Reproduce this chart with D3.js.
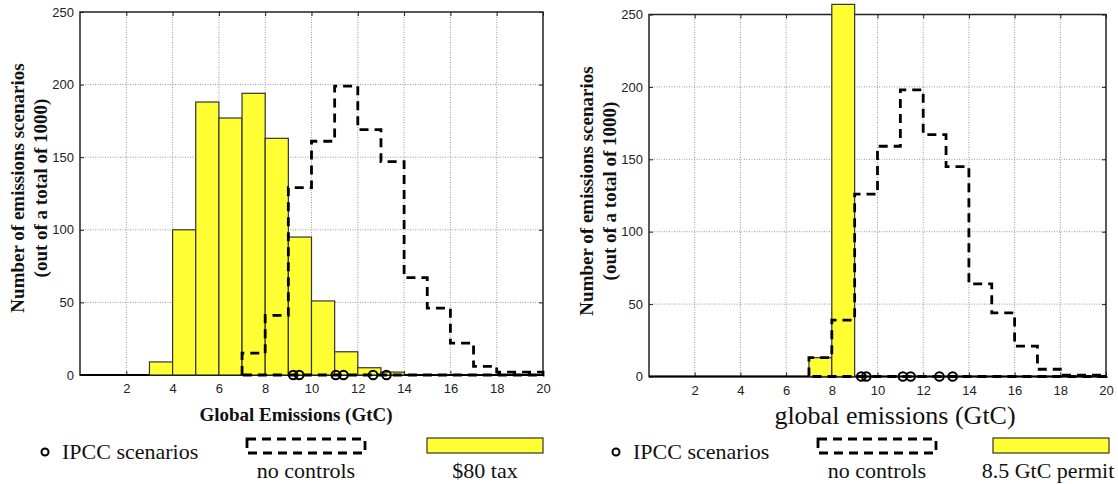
<!DOCTYPE html>
<html>
<head>
<meta charset="utf-8">
<script src="https://d3js.org/d3.v7.min.js"></script>
<style>
  body { margin: 0; background: #fff; }
  svg { display: block; }
  .tick text { font-family: "Liberation Sans", Arial, sans-serif; font-size: 13px; fill: #222; }
  .serif { font-family: "Liberation Serif", "Times New Roman", serif; fill: #111; }
</style>
</head>
<body>
<script>
// bins are 1 GtC wide, starting at these values
var binStarts = [0, 1, 2, 3, 4, 5, 6, 7, 8, 9, 10, 11, 12, 13, 14, 15, 16, 17, 18, 19];

// left panel: $80 tax vs no controls
var taxCounts        = [0, 0, 0, 9, 100, 188, 177, 194, 163, 95, 51, 16, 5, 2, 0, 0, 0, 0, 0, 0];
var noControlsLeft   = [0, 0, 0, 0, 0, 0, 0, 15, 41, 129, 161, 199, 169, 147, 67, 46, 22, 6, 2, 2];
var ipccLeft         = [9.21, 9.47, 11.05, 11.38, 12.66, 13.24];

// right panel: 8.5 GtC permit vs no controls
var permitCounts     = [0, 0, 0, 0, 0, 0, 0, 13, 257, 0, 0, 0, 0, 0, 0, 0, 0, 0, 0, 0];
var noControlsRight  = [0, 0, 0, 0, 0, 0, 0, 13, 39, 126, 159, 198, 167, 145, 64, 44, 21, 5, 1, 1];
var ipccRight        = [9.29, 9.51, 11.11, 11.45, 12.71, 13.29];

var xTicks = [2, 4, 6, 8, 10, 12, 14, 16, 18, 20];
var yTicks = [0, 50, 100, 150, 200, 250];

var svg;
var yellow = "#ffff33";
var dash = "9,6";

function init() {
    svg = d3.select("body").append("svg")
        .attr("width", 1118)
        .attr("height", 484);

    drawPanel({
        left: 80, right: 543, top: 12, bottom: 375,
        bars: taxCounts, steps: noControlsLeft, ipcc: ipccLeft,
        yTitleX: 18, yTitleY: 188,
        xTitle: "Global Emissions (GtC)", xTitleX: 296, xTitleY: 421, xTitleSize: 19, xTitleBold: true,
        legendX: 0, barLabel: "$80 tax", barLabelX: 485, barBox: [427, 543]
    });

    drawPanel({
        left: 649, right: 1106, top: 14.5, bottom: 376.5,
        bars: permitCounts, steps: noControlsRight, ipcc: ipccRight,
        yTitleX: 587, yTitleY: 191,
        xTitle: "global emissions (GtC)", xTitleX: 895, xTitleY: 424, xTitleSize: 26, xTitleBold: false,
        legendX: 571, barLabel: "8.5 GtC permit", barLabelX: 1048, barBox: [993, 1109]
    });
}

function drawPanel(o) {
    var x = d3.scaleLinear().domain([0, 20]).range([o.left, o.right]);
    var y = d3.scaleLinear().domain([0, 250]).range([o.bottom, o.top]);

    var g = svg.append("g");

    // dotted grid
    g.selectAll("line.vgrid")
        .data(xTicks.slice(0, -1))
        .enter().append("line")
        .attr("class", "vgrid")
        .attr("x1", function (d) { return x(d); })
        .attr("x2", function (d) { return x(d); })
        .attr("y1", o.top).attr("y2", o.bottom)
        .attr("stroke", "#999").attr("stroke-width", 1)
        .attr("stroke-dasharray", "1,1.5");

    g.selectAll("line.hgrid")
        .data(yTicks.slice(1, -1))
        .enter().append("line")
        .attr("class", "hgrid")
        .attr("x1", o.left).attr("x2", o.right)
        .attr("y1", function (d) { return y(d); })
        .attr("y2", function (d) { return y(d); })
        .attr("stroke", "#999").attr("stroke-width", 1)
        .attr("stroke-dasharray", "1,1.5");

    // axes: labels bottom/left, inward ticks on every side
    g.append("g")
        .attr("transform", "translate(0," + o.bottom + ")")
        .call(d3.axisBottom(x).tickValues(xTicks).tickSize(-4).tickPadding(9))
        .call(function (a) { a.select(".domain").remove(); });

    g.append("g")
        .attr("transform", "translate(0," + o.top + ")")
        .call(d3.axisTop(x).tickValues(xTicks).tickSize(-4).tickFormat(""))
        .call(function (a) { a.select(".domain").remove(); });

    g.append("g")
        .attr("transform", "translate(" + o.left + ",0)")
        .call(d3.axisLeft(y).tickValues(yTicks).tickSize(-4).tickPadding(6))
        .call(function (a) { a.select(".domain").remove(); });

    g.append("g")
        .attr("transform", "translate(" + o.right + ",0)")
        .call(d3.axisRight(y).tickValues(yTicks).tickSize(-4).tickFormat(""))
        .call(function (a) { a.select(".domain").remove(); });

    g.selectAll(".tick line").attr("stroke", "#222");

    // frame
    g.append("rect")
        .attr("x", o.left).attr("y", o.top)
        .attr("width", o.right - o.left).attr("height", o.bottom - o.top)
        .attr("fill", "none").attr("stroke", "#222").attr("stroke-width", 1.5);

    g.append("line")
        .attr("x1", o.left).attr("x2", o.right)
        .attr("y1", o.bottom).attr("y2", o.bottom)
        .attr("stroke", "#000").attr("stroke-width", 2);

    // yellow histogram
    var barData = binStarts.map(function (b, i) { return { b: b, v: o.bars[i] }; })
        .filter(function (d) { return d.v > 0; });

    g.selectAll("rect.bar")
        .data(barData)
        .enter().append("rect")
        .attr("class", "bar")
        .attr("x", function (d) { return x(d.b); })
        .attr("width", function (d) { return x(d.b + 1) - x(d.b); })
        .attr("y", function (d) { return y(d.v); })
        .attr("height", function (d) { return y(0) - y(d.v); })
        .attr("fill", yellow)
        .attr("stroke", "#333").attr("stroke-width", 1.2);

    // no controls histogram as a dashed staircase outline
    var first = o.steps.findIndex(function (v) { return v > 0; });
    var pts = [[binStarts[first], 0]];
    for (var i = first; i < binStarts.length; i++) pts.push([binStarts[i], o.steps[i]]);
    var end = binStarts[binStarts.length - 1] + 1;
    pts.push([end, o.steps[o.steps.length - 1]]);
    pts.push([end, 0]);
    pts.push([binStarts[first], 0]);

    var stairs = d3.line()
        .x(function (d) { return x(d[0]); })
        .y(function (d) { return y(d[1]); })
        .curve(d3.curveStepAfter);

    g.append("path")
        .attr("d", stairs(pts))
        .attr("fill", "none")
        .attr("stroke", "#000").attr("stroke-width", 2.8)
        .attr("stroke-dasharray", dash);

    // IPCC scenarios
    g.selectAll("circle.ipcc")
        .data(o.ipcc)
        .enter().append("circle")
        .attr("class", "ipcc")
        .attr("cx", function (d) { return x(d); })
        .attr("cy", y(0))
        .attr("r", 4.3)
        .attr("fill", "none")
        .attr("stroke", "#000").attr("stroke-width", 2);

    // axis titles
    var yt = g.append("text")
        .attr("class", "serif")
        .attr("transform", "translate(" + o.yTitleX + "," + o.yTitleY + ") rotate(-90)")
        .attr("text-anchor", "middle")
        .attr("font-size", 19)
        .attr("font-weight", "bold");
    yt.append("tspan").attr("x", 0).attr("dy", 6).text("Number of emissions scenarios");
    yt.append("tspan").attr("x", 0).attr("dy", 23).text("(out of a total of 1000)");

    g.append("text")
        .attr("class", "serif")
        .attr("x", o.xTitleX).attr("y", o.xTitleY)
        .attr("text-anchor", "middle")
        .attr("font-size", o.xTitleSize)
        .attr("font-weight", o.xTitleBold ? "bold" : "normal")
        .text(o.xTitle);

    // legend
    var lg = svg.append("g");
    lg.append("circle")
        .attr("cx", o.legendX + 45).attr("cy", 452)
        .attr("r", 3.5)
        .attr("fill", "none").attr("stroke", "#000").attr("stroke-width", 2);
    lg.append("text")
        .attr("class", "serif")
        .attr("x", o.legendX + 62).attr("y", 459)
        .attr("font-size", 22)
        .text("IPCC scenarios");

    lg.append("rect")
        .attr("x", o.legendX + 247).attr("y", 439)
        .attr("width", 118).attr("height", 14)
        .attr("fill", "none").attr("stroke", "#000").attr("stroke-width", 2.8)
        .attr("stroke-dasharray", dash);
    lg.append("text")
        .attr("class", "serif")
        .attr("x", o.legendX + 306).attr("y", 478)
        .attr("text-anchor", "middle")
        .attr("font-size", 22)
        .text("no controls");

    lg.append("rect")
        .attr("x", o.barBox[0]).attr("y", 438)
        .attr("width", o.barBox[1] - o.barBox[0]).attr("height", 15)
        .attr("fill", yellow).attr("stroke", "#333").attr("stroke-width", 1.2);
    lg.append("text")
        .attr("class", "serif")
        .attr("x", o.barLabelX).attr("y", 478)
        .attr("text-anchor", "middle")
        .attr("font-size", 22)
        .text(o.barLabel);
}

window.onload = init;
</script>
</body>
</html>
